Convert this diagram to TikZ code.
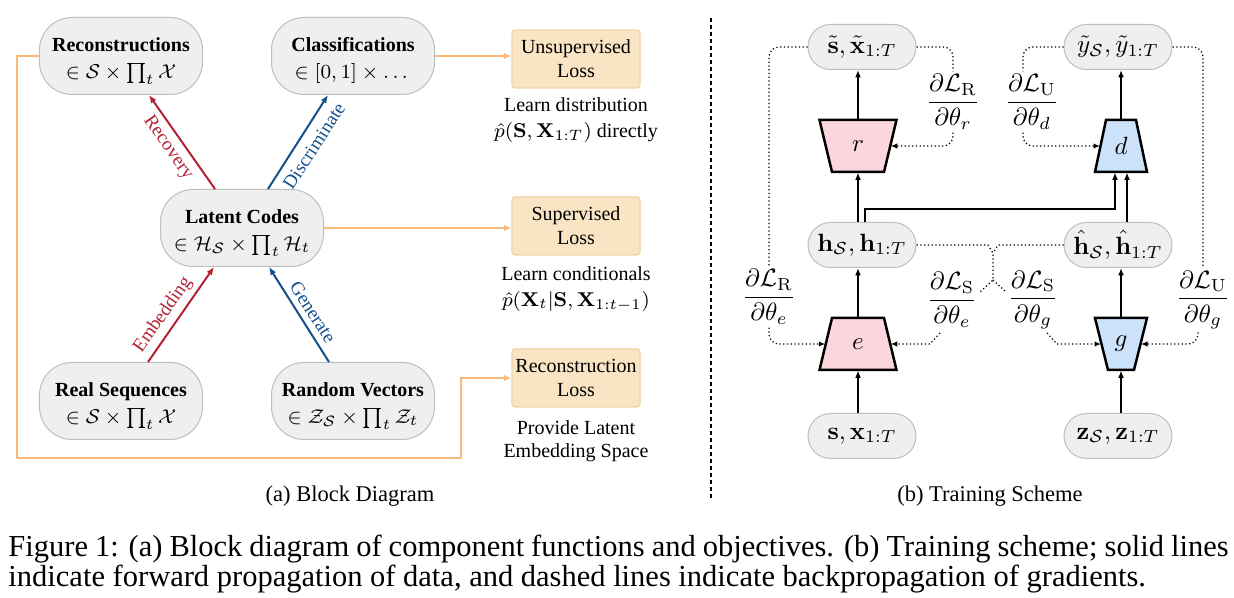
\documentclass[tikz,border=0pt]{standalone}
\usepackage[no-math]{fontspec}
\setmainfont{Liberation Serif}
\usepackage{amsmath}
\usetikzlibrary{arrows.meta,calc}
\definecolor{nodegray}{RGB}{239,239,239}
\definecolor{nodeedge}{RGB}{190,190,190}
\definecolor{lossfill}{RGB}{249,229,195}
\definecolor{lossedge}{RGB}{240,212,165}
\definecolor{orangeline}{RGB}{248,185,122}
\definecolor{recred}{RGB}{178,34,52}
\definecolor{genblue}{RGB}{20,80,140}
\definecolor{pinkfill}{RGB}{252,214,221}
\definecolor{bluefill}{RGB}{204,226,250}
\newcommand{\trapz}[7]{%
  \filldraw[trapline, fill=#6] (#2-#4,#3-26) -- (#2+#4,#3-26) -- (#2+#5,#3+26) -- (#2-#5,#3+26) -- cycle;
  \node[inner sep=0pt, minimum height=20.8pt, minimum width={(#4+#5)*0.4pt}] (#1) at (#2,#3) {#7};}
\newcommand{\topstrut}{\rule{0pt}{9.6pt}}
\begin{document}
\begin{tikzpicture}[x=0.4pt,y=-0.4pt,
  bigpill/.style={draw=nodeedge, fill=nodegray, rounded corners=13pt, minimum width=65.2pt,
    minimum height=30.8pt, align=center, inner sep=0pt, line width=0.4pt,
    font=\fontsize{8}{10.8}\selectfont},
  lossbox/.style={draw=lossedge, fill=lossfill, rounded corners=1.2pt, minimum width=51.2pt,
    minimum height=23.2pt, align=center, inner sep=0pt, line width=0.5pt,
    font=\fontsize{8}{9.6}\selectfont},
  losstext/.style={align=center, inner sep=0pt, font=\fontsize{8}{10.4}\selectfont},
  orangearrow/.style={draw=orangeline, line width=0.8pt, -{Latex[length=3pt,width=2.6pt]}},
  redarrow/.style={draw=recred, line width=0.8pt, -{Latex[length=3.2pt,width=2.6pt]}},
  bluearrow/.style={draw=genblue, line width=0.8pt, -{Latex[length=3.2pt,width=2.6pt]}},
  edgelab/.style={inner sep=0pt, font=\fontsize{7.6}{9}\selectfont},
  smallpill/.style={draw=nodeedge, fill=nodegray, rounded corners=9pt, minimum width=43.2pt,
    minimum height=18pt, inner sep=0pt, line width=0.4pt},
  trapline/.style={draw=black, line width=1pt},
  fwd/.style={draw=black, line width=1pt, -{Latex[length=3pt,width=2.4pt]}},
  grad/.style={draw=black, line width=0.5pt, densely dotted},
  gradarrow/.style={grad, rounded corners=4pt, -{Latex[length=2.6pt,width=2.2pt]}},
  gradlab/.style={inner sep=1pt},
  subcap/.style={font=\fontsize{9}{11}\selectfont, anchor=base, inner sep=0pt},
  figcap/.style={font=\fontsize{12.2}{14}\selectfont, anchor=base west, inner sep=0pt}
]
\useasboundingbox (0,0) rectangle (1234,598);

% ---------- (a) Block diagram ----------
\node[bigpill] (rec) at (121,56) {\topstrut\textbf{Reconstructions}\\$\in\mathcal{S}\times\prod_t\mathcal{X}$};
\node[bigpill] (cls) at (353,56) {\topstrut\textbf{Classifications}\\$\in[0,1]\times\dots$};
\node[bigpill] (lat) at (242,228) {\topstrut\textbf{Latent Codes}\\$\in\mathcal{H}_{\mathcal{S}}\times\prod_t\mathcal{H}_t$};
\node[bigpill] (real) at (121,401) {\topstrut\textbf{Real Sequences}\\$\in\mathcal{S}\times\prod_t\mathcal{X}$};
\node[bigpill] (rand) at (353,401) {\topstrut\textbf{Random Vectors}\\$\in\mathcal{Z}_{\mathcal{S}}\times\prod_t\mathcal{Z}_t$};

\node[lossbox] (uloss) at (576,59) {Unsupervised\\Loss};
\node[lossbox] (sloss) at (576,226) {Supervised\\Loss};
\node[lossbox] (rloss) at (576,378) {Reconstruction\\Loss};

\node[losstext] (udesc) at (576,120) {Learn distribution\\$\hat{p}(\mathbf{S},\mathbf{X}_{1:T})$ directly};
\node[losstext] (sdesc) at (576,289) {Learn conditionals\\$\hat{p}(\mathbf{X}_t|\mathbf{S},\mathbf{X}_{1:t-1})$};
\node[losstext, font=\fontsize{8}{9.3}\selectfont] (rdesc) at (576,441) {Provide Latent\\Embedding Space};

\draw[redarrow] ($(lat.north)+(-27,0)$) -- ($(rec.south)+(28,0)$);
\draw[bluearrow] ($(lat.north)+(26,0)$) -- ($(cls.south)+(-25,0)$);
\draw[redarrow] ($(real.north)+(27,0)$) -- ($(lat.south)+(-28,0)$);
\draw[bluearrow] ($(rand.north)+(-24,0)$) -- ($(lat.south)+(27,0)$);

\node[edgelab, text=recred, rotate=-55] (lrec) at (168,148) {Recovery};
\node[edgelab, text=genblue, rotate=57] (ldis) at (314,146) {Discriminate};
\node[edgelab, text=recred, rotate=55] (lemb) at (163,315) {Embedding};
\node[edgelab, text=genblue, rotate=-57] (lgen) at (313,312) {Generate};

\draw[orangearrow] (cls.east) -- (cls.east -| uloss.west);
\draw[orangearrow] (lat.east) -- (lat.east -| sloss.west);
\coordinate (o1) at (17,458);
\coordinate (o2) at (461,458);
\draw[orangearrow] (rec.west) -| (o1) -- (o2) |- (rloss.west);

\node[subcap] (capa) at (350,502) {(a) Block Diagram};

% ---------- divider ----------
\draw[line width=0.8pt, dash pattern=on 1.6pt off 1.2pt] (711,18) -- (711,500);

% ---------- (b) Training scheme ----------
\node[smallpill] (st) at (862,47) {$\tilde{\mathbf{s}},\tilde{\mathbf{x}}_{1:T}$};
\node[smallpill] (yt) at (1118,47) {$\tilde{y}_{\mathcal{S}},\tilde{y}_{1:T}$};
\node[smallpill] (h) at (862,245) {$\mathbf{h}_{\mathcal{S}},\mathbf{h}_{1:T}$};
\node[smallpill] (hh) at (1118,245) {$\hat{\mathbf{h}}_{\mathcal{S}},\hat{\mathbf{h}}_{1:T}$};
\node[smallpill] (sx) at (862,436) {$\mathbf{s},\mathbf{x}_{1:T}$};
\node[smallpill] (z) at (1118,436) {$\mathbf{z}_{\mathcal{S}},\mathbf{z}_{1:T}$};

\trapz{r}{858}{146}{38.5}{26}{pinkfill}{$r$}
\trapz{e}{858}{344}{26}{38.5}{pinkfill}{$e$}
\trapz{d}{1121}{146}{15}{26}{bluefill}{$d$}
\trapz{g}{1121}{344}{26}{13}{bluefill}{$g$}

\draw[fwd] (sx.north -| e.south) -- (e.south);
\draw[fwd] (e.north) -- (e.north |- h.south);
\draw[fwd] (h.north -| r.south) -- (r.south);
\draw[fwd] (r.north) -- (r.north |- st.south);
\coordinate (d1) at ($(d.south)+(-6,0)$);
\coordinate (d2) at ($(d.south)+(6,0)$);
\draw[fwd] ($(h.north)+(3,0)$) -- ++(0,-13) -| (d1);
\draw[fwd] (d2 |- hh.north) -- (d2);
\draw[fwd] (z.north -| g.south) -- (g.south);
\draw[fwd] (g.north) -- (g.north |- hh.south);
\draw[fwd] (d.north) -- (d.north |- yt.south);

\node[gradlab] (LRe) at (769,297) {$\dfrac{\partial\mathcal{L}_{\mathrm{R}}}{\partial\theta_e}$};
\node[gradlab] (LRr) at (953,102) {$\dfrac{\partial\mathcal{L}_{\mathrm{R}}}{\partial\theta_r}$};
\node[gradlab] (LUd) at (1032,102) {$\dfrac{\partial\mathcal{L}_{\mathrm{U}}}{\partial\theta_d}$};
\node[gradlab] (LUg) at (1203,300) {$\dfrac{\partial\mathcal{L}_{\mathrm{U}}}{\partial\theta_g}$};
\node[gradlab] (LSe) at (952,300) {$\dfrac{\partial\mathcal{L}_{\mathrm{S}}}{\partial\theta_e}$};
\node[gradlab] (LSg) at (1033,300) {$\dfrac{\partial\mathcal{L}_{\mathrm{S}}}{\partial\theta_g}$};

\draw[grad, rounded corners=4pt] (st.west) -| (LRe.north);
\draw[gradarrow] (LRe.south) |- (e.west);
\draw[grad, rounded corners=4pt] (st.east) -| (LRr.north);
\draw[gradarrow] (LRr.south) |- (r.east);
\draw[grad, rounded corners=4pt] (yt.west) -| ([xshift=-3.6pt]LUd.north);
\draw[gradarrow] ([xshift=-3.6pt]LUd.south) |- (d.west);
\draw[grad, rounded corners=4pt] (yt.east) -| (LUg.north);
\draw[gradarrow] ([xshift=-2pt]LUg.south) |- (g.east);

\coordinate (j1) at (988,245);
\coordinate (j2) at (998,245);
\coordinate (m1) at (993,253);
\coordinate (m2) at (993,280);
\coordinate (tl) at (980,292);
\coordinate (tr) at (1006,292);
\draw[grad] (h.east) -- (j1) -- (m1) -- (m2) -- (tl);
\draw[grad] (hh.west) -- (j2) -- (m1);
\draw[grad] (m2) -- (tr);

\coordinate (ce1) at (940,333);
\coordinate (ce2) at (930,344);
\coordinate (cg1) at (1047,333);
\coordinate (cg2) at (1057,344);
\draw[grad, -{Latex[length=2.6pt,width=2.2pt]}] (ce1) -- (ce2) -- (e.east);
\draw[grad, -{Latex[length=2.6pt,width=2.2pt]}] (cg1) -- (cg2) -- (g.west);

\node[subcap] (capb) at (990,502) {(b) Training Scheme};

% ---------- caption ----------
\node[figcap] (cap1) at (8,557) {\makebox[488pt][s]{Figure 1: (a) Block diagram of component functions and objectives. (b) Training scheme; solid lines}};
\node[figcap] (cap2) at (8,587) {indicate forward propagation of data, and dashed lines indicate backpropagation of gradients.};
\end{tikzpicture}
\end{document}
